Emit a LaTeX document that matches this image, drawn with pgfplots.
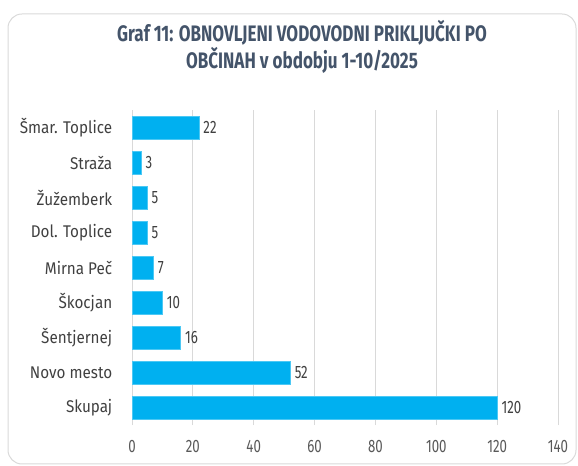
\documentclass[border=0pt]{standalone}
\usepackage{fontspec}
\setmainfont{Fira Sans}
\newfontfamily\numfont[FakeStretch=0.74]{Fira Sans}
\newfontfamily\labfont[FakeStretch=0.9]{Fira Sans}
\newfontfamily\titfont[FakeStretch=0.76]{Fira Sans}
\usepackage{pgfplots}
\pgfplotsset{compat=1.18}
\definecolor{barc}{HTML}{00B0F0}
\definecolor{titlec}{HTML}{44546A}
\definecolor{tickc}{HTML}{595959}
\definecolor{labc}{HTML}{404040}
\definecolor{gridc}{HTML}{D9D9D9}
\begin{document}
\begin{tikzpicture}
\useasboundingbox (0bp,0bp) rectangle (578bp,466bp);
\draw[gridc, line width=1bp, rounded corners=14bp] (8bp,2bp) rectangle (576bp,452bp);
\node[align=center, text=titlec, font=\titfont\fontsize{22.5}{27}\selectfont\bfseries] at (302bp,419bp) {Graf 11: OBNOVLJENI VODOVODNI PRIKLJUČKI PO\\OBČINAH v obdobju 1-10/2025};
\begin{axis}[
  at={(132bp,41bp)}, anchor=south west,
  scale only axis, width=426bp, height=315bp,
  xmin=0, xmax=140, ymin=-0.5, ymax=8.5,
  xtick={0,20,...,140},
  ytick={0,...,8},
  yticklabels={Skupaj,Novo mesto,Šentjernej,Škocjan,Mirna Peč,Dol. Toplice,Žužemberk,Straža,Šmar. Toplice},
  axis line style={draw=none},
  xmajorgrids, grid style={gridc, line width=0.8bp},
  tick style={draw=none},
  /pgf/number format/assume math mode=true,
  xticklabel style={text=tickc, font=\numfont\fontsize{18}{20}\selectfont, yshift=-12bp},
  yticklabel style={text=labc, font=\labfont\fontsize{17}{20}\selectfont, xshift=-12bp},
  xbar, bar width=23bp,
  nodes near coords,
  nodes near coords style={text=labc, font=\numfont\fontsize{18}{20}\selectfont, anchor=west, xshift=1bp},
]
\addplot[fill=barc, draw=barc!70!white] coordinates {
(120,0) (52,1) (16,2) (10,3) (7,4) (5,5) (5,6) (3,7) (22,8)
};
\end{axis}
\end{tikzpicture}
\end{document}
